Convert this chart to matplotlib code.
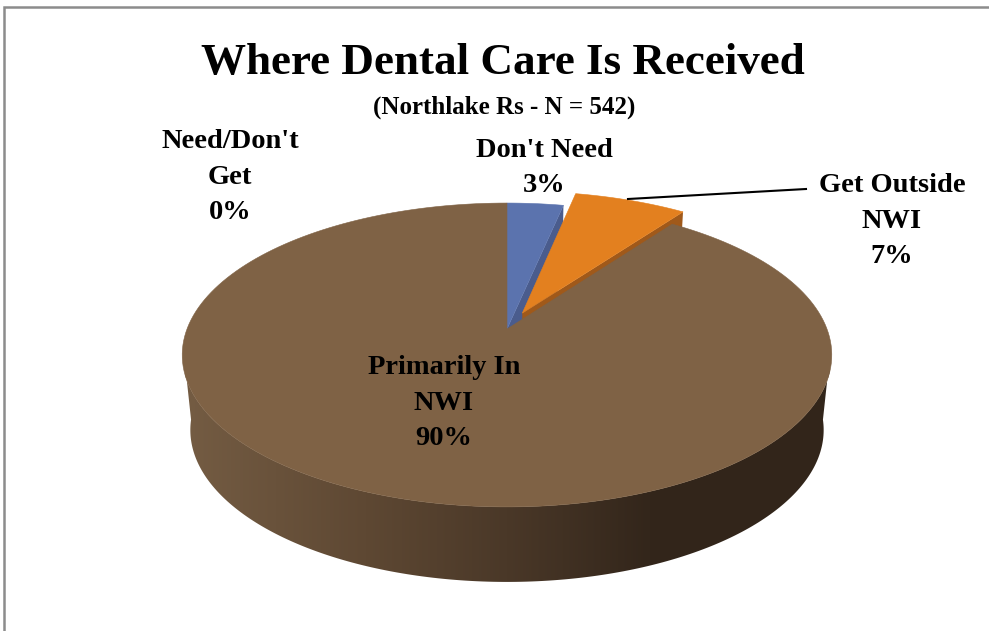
import numpy as np
import matplotlib
matplotlib.use("Agg")
import matplotlib.pyplot as plt
from matplotlib.colors import LinearSegmentedColormap
from matplotlib.patches import Polygon

# shares, the labels round them
categories = ["Don't Need", "Get Outside\nNWI", "Primarily In\nNWI", "Need/Don't\nGet"]
shares = [3.3, 6.7, 90.0, 0.0]
exploded = [0.0, 0.12, 0.0, 0.0]
top_colors = ["#5b73ae", "#e3801f", "#7f6245", "#a5a5a5"]
wall_colors = ["#4a5c8d", "#a0591a", "#5c4632", "#808080"]
title = "Where Dental Care Is Received"
subtitle = "(Northlake Rs - N = 542)"

CX, CY_TOP, CY_BOT = 507, 329, 404
RX, RY, PERSP = 320, 147.5, 0.171
BOT_SCALE = 0.975


def project(xs, ys, bottom=False):
    # simple perspective: far side of the disc (ys > 0) comes out smaller
    s = 1 / (1 + PERSP * np.asarray(ys))
    if bottom:
        return CX + BOT_SCALE * RX * xs * s, CY_BOT - RY * ys * s
    return CX + RX * xs * s, CY_TOP - RY * ys * s


def rim(a0, a1, bottom=False, shift=(0, 0)):
    a = np.radians(np.linspace(a0, a1, 200))
    px, py = project(np.sin(a) + shift[0], np.cos(a) + shift[1], bottom)
    return np.column_stack([px, py])


def point(a, r, shift, bottom=False):
    a = np.radians(a)
    px, py = project(r * np.sin(a) + shift[0], r * np.cos(a) + shift[1], bottom)
    return [float(px), float(py)]


fig = plt.figure(figsize=(9.89, 6.31), dpi=100)
ax = fig.add_axes([0, 0, 1, 1])
ax.set_xlim(0, 989)
ax.set_ylim(631, 0)
ax.axis("off")

# frame of the chart area
ax.plot([4, 4, 989], [631, 7, 7], color="#8c8c8c", lw=1.8, solid_joinstyle="miter")

# outer wall of the big slice, shaded left to right
wall = np.vstack([rim(96, 264), rim(264, 96, bottom=True)])
wall_cmap = LinearSegmentedColormap.from_list(
    "wall", [(0, "#745c43"), (0.28, "#5e4833"), (0.5, "#4a3828"), (0.72, "#33261b"), (1, "#32251a")])
grad = ax.imshow(np.linspace(0, 1, 256).reshape(1, -1), cmap=wall_cmap, aspect="auto",
                 extent=[185, 830, 631, 0], zorder=1)
grad.set_clip_path(Polygon(wall, closed=True, transform=ax.transData))
ax.set_xlim(0, 989)
ax.set_ylim(631, 0)

# slices, drawn back to front so the big top face hides the cut walls
angles = np.cumsum([0] + [v * 3.6 for v in shares])
order = [0, 1, 2]
for n, i in enumerate(order):
    a0, a1 = angles[i], angles[i + 1]
    mid = np.radians((a0 + a1) / 2)
    shift = (exploded[i] * np.sin(mid), exploded[i] * np.cos(mid))
    z = 2 + n
    if i != 2:
        cut = [point(a1, 0, shift), point(a1, 1, shift),
               point(a1, 1, shift, bottom=True), point(a1, 0, shift, bottom=True)]
        ax.add_patch(Polygon(cut, closed=True, fc=wall_colors[i], ec="none", zorder=z))
    face = np.vstack([[point(a0, 0, shift)], rim(a0, a1, shift=shift)])
    ax.add_patch(Polygon(face, closed=True, fc=top_colors[i], ec=top_colors[i], lw=0.4, zorder=z + 0.5))

# leader line of the orange slice
ax.plot([628, 806], [199, 189], color="black", lw=1.5, zorder=6)

serif = "Liberation Serif"
ax.text(503, 63, title, ha="center", va="center", family=serif, weight="bold",
        fontsize=32.5, color="black", zorder=7)
ax.text(504, 107, subtitle, ha="center", va="center", family=serif, weight="bold",
        fontsize=18, color="black", zorder=7)

label_xy = [(544, 168), (892, 221), (444, 403), (230, 177)]
for name, val, xy in zip(categories, shares, label_xy):
    ax.text(xy[0], xy[1], f"{name}\n{val:.0f}%", ha="center", va="center", family=serif,
            weight="bold", fontsize=20.5, linespacing=1.575, color="black", zorder=7)

fig.savefig("out.png", dpi=100)
